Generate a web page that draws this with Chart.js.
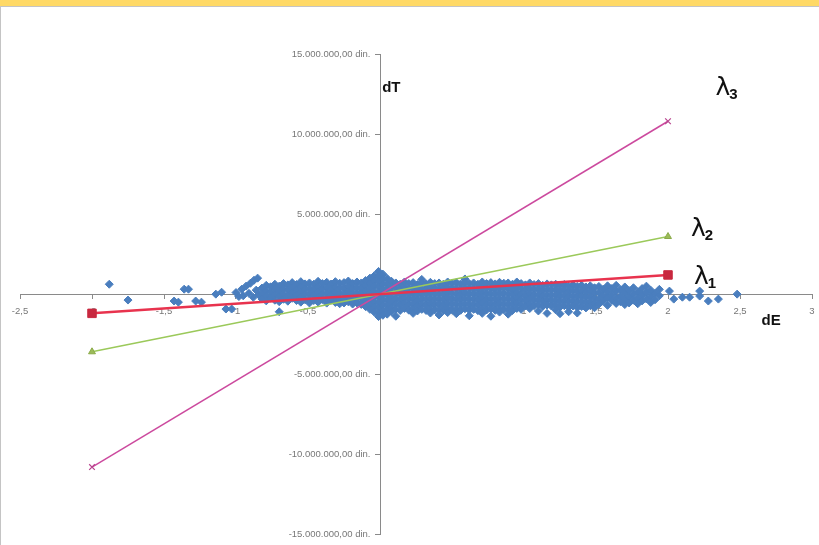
<!DOCTYPE html>
<html>
<head>
<meta charset="utf-8">
<script src="https://cdn.jsdelivr.net/npm/chart.js@4/dist/chart.umd.min.js"></script>
<style>
  html, body { margin: 0; padding: 0; background: #fff; }
  #wrap { position: relative; width: 819px; height: 545px; overflow: hidden; }
  #bar { position: absolute; left: 0; top: 0; width: 819px; height: 6px; background: #FFD966; border-bottom: 1px solid #c4c4c4; }
  #edge { position: absolute; left: 0; top: 7px; width: 1px; height: 538px; background: #c4c4c4; }
  canvas { position: absolute; left: 0; top: 0; }
</style>
</head>
<body>
<div id="wrap">
  <canvas id="c" width="819" height="545"></canvas>
  <div id="bar"></div>
  <div id="edge"></div>
</div>
<script>
// Axis ranges: dE (unitless), dT in millions of dinars
const dERange = [-2.5, 3];
const dEStep = 0.5;
const dTRange = [-15, 15];
const dTStep = 5;

// λ lines: dT (mln din.) at the two ends dE = -2 and dE = 2
const lambdaDE = [-2, 2];
const lambda1 = [-1.2, 1.2];
const lambda2 = [-3.6, 3.6];
const lambda3 = [-10.8, 10.8];

// Observations: isolated points [dE, dT]
const leftTail = [
  [-1.88, 0.62], [-1.75, -0.37], [-1.36, 0.31], [-1.33, 0.31], [-1.43, -0.43],
  [-1.40, -0.50], [-1.28, -0.43], [-1.24, -0.50], [-1.14, 0.00], [-1.10, 0.12],
  [-1.07, -0.93], [-1.03, -0.93], [-1.00, 0.10], [-0.98, -0.15], [-0.95, -0.10],
  [-0.91, 0.05], [-0.88, -0.20], [-0.86, 0.25], [-0.84, -0.05]
];
const streak = [
  [-0.96, 0.31], [-0.93, 0.50], [-0.90, 0.68], [-0.875, 0.87], [-0.85, 1.00]
];
const rightTail = [
  [2.01, 0.19], [2.04, -0.31], [2.10, -0.19], [2.15, -0.19], [2.22, 0.19],
  [2.22, -0.12], [2.28, -0.43], [2.35, -0.31], [2.48, 0.00]
];

// Observations grouped by dE column: [dE, [dT, dT, ...]]
const coreLeft = [
  [-0.82, [0.38, 0.05, -0.30]],
  [-0.79, [0.55, 0.20, -0.12, -0.42]],
  [-0.76, [0.46, 0.12, -0.25]],
  [-0.73, [0.62, 0.30, -0.05, -0.38]],
  [-0.70, [0.50, 0.18, -0.15, -0.47, -1.10]],
  [-0.67, [0.66, 0.33, 0.00, -0.32]],
  [-0.64, [0.58, 0.24, -0.10, -0.44]],
  [-0.61, [0.72, 0.40, 0.08, -0.26]],
  [-0.58, [0.60, 0.27, -0.06, -0.40]],
  [-0.55, [0.78, 0.45, 0.12, -0.20, -0.50]],
  [-0.52, [0.64, 0.31, -0.02, -0.35]],
  [-0.49, [0.70, 0.38, 0.05, -0.28, -0.55]],
  [-0.46, [0.62, 0.28, -0.05, -0.40]],
  [-0.43, [0.80, 0.47, 0.14, -0.19, -0.50]],
  [-0.40, [0.66, 0.33, 0.00, -0.33]],
  [-0.37, [0.74, 0.41, 0.08, -0.25, -0.56]],
  [-0.34, [0.63, 0.30, -0.03, -0.37]],
  [-0.31, [0.78, 0.45, 0.12, -0.21, -0.52]],
  [-0.28, [0.68, 0.35, 0.02, -0.31, -0.60]],
  [-0.25, [0.72, 0.39, 0.06, -0.27, -0.55]],
  [-0.22, [0.82, 0.49, 0.16, -0.17, -0.48]],
  [-0.19, [0.66, 0.33, 0.00, -0.33, -0.62]],
  [-0.16, [0.76, 0.43, 0.10, -0.23, -0.55]],
  [-0.13, [0.70, 0.37, 0.04, -0.29, -0.64]],
  [-0.10, [0.85, 0.52, 0.19, -0.14, -0.47, -0.78]]
];
const coreCenter = [
  [-0.07, [1.00, 0.68, 0.35, 0.02, -0.31, -0.64, -0.95]],
  [-0.04, [1.15, 0.82, 0.50, 0.17, -0.16, -0.49, -0.82, -1.12]],
  [-0.01, [1.42, 1.10, 0.78, 0.46, 0.13, -0.20, -0.53, -0.86, -1.18, -1.40]],
  [0.02, [1.25, 0.93, 0.60, 0.28, -0.05, -0.38, -0.71, -1.04, -1.32]],
  [0.05, [0.98, 0.66, 0.33, 0.00, -0.33, -0.66, -0.98, -1.25]],
  [0.08, [0.80, 0.47, 0.14, -0.19, -0.52, -0.85, -1.10]]
];
const coreRight = [
  [0.11, [0.70, 0.38, 0.05, -0.28, -0.61, -0.94, -1.38]],
  [0.14, [0.62, 0.29, -0.04, -0.37, -0.70, -1.02]],
  [0.17, [0.76, 0.43, 0.10, -0.23, -0.56, -0.89]],
  [0.20, [0.66, 0.33, 0.00, -0.33, -0.66, -1.00]],
  [0.23, [0.72, 0.40, 0.07, -0.26, -0.59, -0.92, -1.20]],
  [0.26, [0.60, 0.27, -0.06, -0.39, -0.72, -1.05]],
  [0.29, [0.92, 0.70, 0.37, 0.04, -0.29, -0.62, -0.95]],
  [0.32, [0.64, 0.31, -0.02, -0.35, -0.68, -1.02]],
  [0.35, [0.74, 0.41, 0.08, -0.25, -0.58, -0.91, -1.18]],
  [0.38, [0.66, 0.33, 0.00, -0.33, -0.66, -0.99]],
  [0.41, [0.70, 0.37, 0.04, -0.29, -0.62, -0.95, -1.30]],
  [0.44, [0.62, 0.29, -0.04, -0.37, -0.70, -1.04]],
  [0.47, [0.76, 0.43, 0.10, -0.23, -0.56, -0.89, -1.15]],
  [0.50, [0.68, 0.35, 0.02, -0.31, -0.64, -0.97]],
  [0.53, [0.72, 0.39, 0.06, -0.27, -0.60, -0.93, -1.22]],
  [0.56, [0.64, 0.31, -0.02, -0.35, -0.68, -1.01]],
  [0.59, [0.95, 0.74, 0.41, 0.08, -0.25, -0.58, -0.91]],
  [0.62, [0.66, 0.33, 0.00, -0.33, -0.66, -0.99, -1.35]],
  [0.65, [0.70, 0.37, 0.04, -0.29, -0.62, -0.95]],
  [0.68, [0.62, 0.29, -0.04, -0.37, -0.70, -1.03]],
  [0.71, [0.76, 0.43, 0.10, -0.23, -0.56, -0.89, -1.20]],
  [0.74, [0.66, 0.33, 0.00, -0.33, -0.66, -0.99]],
  [0.77, [0.72, 0.39, 0.06, -0.27, -0.60, -0.93, -1.38]],
  [0.80, [0.64, 0.31, -0.02, -0.35, -0.68, -1.01]],
  [0.83, [0.74, 0.41, 0.08, -0.25, -0.58, -0.91, -1.12]],
  [0.86, [0.68, 0.35, 0.02, -0.31, -0.64, -0.97]],
  [0.89, [0.70, 0.37, 0.04, -0.29, -0.62, -0.95, -1.25]],
  [0.92, [0.62, 0.29, -0.04, -0.37, -0.70, -1.02]],
  [0.95, [0.76, 0.43, 0.10, -0.23, -0.56, -0.89]],
  [0.98, [0.66, 0.33, 0.00, -0.33, -0.66, -0.95]],
  [1.01, [0.58, 0.25, -0.08, -0.41, -0.74]],
  [1.04, [0.70, 0.37, 0.04, -0.29, -0.62, -0.90]],
  [1.07, [0.60, 0.27, -0.06, -0.39, -0.72]],
  [1.10, [0.66, 0.33, 0.00, -0.33, -0.66, -1.05]],
  [1.13, [0.55, 0.22, -0.11, -0.44, -0.77]],
  [1.16, [0.64, 0.31, -0.02, -0.35, -0.68, -1.20]],
  [1.19, [0.58, 0.25, -0.08, -0.41, -0.74]],
  [1.22, [0.62, 0.29, -0.04, -0.37, -0.70, -0.98]],
  [1.25, [0.52, 0.19, -0.14, -0.47, -0.80, -1.22]],
  [1.28, [0.60, 0.27, -0.06, -0.39, -0.72]],
  [1.31, [0.50, 0.17, -0.16, -0.49, -0.82, -1.10]],
  [1.34, [0.58, 0.25, -0.08, -0.41, -0.74]],
  [1.37, [0.48, 0.15, -0.18, -0.51, -0.84, -1.18]],
  [1.40, [0.55, 0.22, -0.11, -0.44, -0.77]],
  [1.43, [0.45, 0.12, -0.21, -0.54, -0.86]],
  [1.46, [0.52, 0.19, -0.14, -0.47, -0.72]],
  [1.49, [0.40, 0.07, -0.26, -0.59, -0.85]]
];
const coreFar = [
  [1.52, [0.48, 0.10, -0.30, -0.62]],
  [1.55, [0.30, -0.08, -0.45]],
  [1.58, [0.52, 0.15, -0.22, -0.70]],
  [1.61, [0.35, -0.05, -0.40]],
  [1.64, [0.55, 0.18, -0.25, -0.58]],
  [1.67, [0.28, -0.12, -0.48]],
  [1.70, [0.45, 0.05, -0.32, -0.65]],
  [1.73, [0.22, -0.18, -0.55]],
  [1.76, [0.40, 0.00, -0.38]],
  [1.79, [0.15, -0.25, -0.60]],
  [1.82, [0.35, -0.05, -0.42]],
  [1.85, [0.50, 0.10, -0.30]],
  [1.88, [0.25, -0.15, -0.52]],
  [1.91, [0.05, -0.35]],
  [1.94, [0.30, -0.10]]
];

// Text placed in data coordinates
const axisTitles = [
  { text: 'dT', dE: 0.015, dT: 12.6 },
  { text: 'dE', dE: 2.65, dT: -1.95 }
];
const lambdaTags = [
  { sub: '1', dE: 2.18, dT: 0.62 },
  { sub: '2', dE: 2.16, dT: 3.62 },
  { sub: '3', dE: 2.33, dT: 12.45 }
];

// Flatten the observations into {x, y} points
const cloud = [];
[leftTail, streak, rightTail].forEach(list => list.forEach(([x, y]) => cloud.push({ x, y })));
[coreLeft, coreCenter, coreRight, coreFar].forEach(cols =>
  cols.forEach(([x, ys]) => ys.forEach(y => cloud.push({ x, y }))));

const linePoints = vals => lambdaDE.map((x, i) => ({ x, y: vals[i] }));

// "15.000.000,00 din." style labels (values are in millions); the trailing
// em space keeps the text clear of the tick marks on the centred axis
function dinLabel(v) {
  const n = Math.round(Math.abs(v) * 1000000);
  const s = String(n).replace(/\B(?=(\d{3})+(?!\d))/g, '.');
  return (v < 0 ? '-' : '') + s + ',00 din.\u2003';
}
function dELabel(v) {
  return String(Math.round(v * 10) / 10).replace('.', ',');
}

const textPlugin = {
  id: 'axisText',
  afterDatasetsDraw(chart) {
    const { ctx, scales: { x, y } } = chart;
    ctx.save();
    ctx.fillStyle = '#111';
    ctx.textBaseline = 'alphabetic';
    ctx.textAlign = 'left';
    ctx.font = 'bold 15px "Liberation Sans", Arial, sans-serif';
    axisTitles.forEach(t => ctx.fillText(t.text, x.getPixelForValue(t.dE), y.getPixelForValue(t.dT)));
    lambdaTags.forEach(t => {
      const px = x.getPixelForValue(t.dE);
      const py = y.getPixelForValue(t.dT);
      ctx.font = '25px "DejaVu Sans", sans-serif';
      ctx.fillText('λ', px, py);
      const w = ctx.measureText('λ').width;
      ctx.font = 'bold 15px "Liberation Sans", Arial, sans-serif';
      ctx.fillText(t.sub, px + w - 1, py + 4);
    });
    ctx.restore();
  }
};

const axisGrey = '#8a8a8a';
const tickFont = { size: 9.5, family: '"Liberation Sans", Arial, sans-serif' };

new Chart(document.getElementById('c'), {
  type: 'scatter',
  data: {
    datasets: [
      {
        label: 'λ1', data: linePoints(lambda1), showLine: true, order: 1,
        borderColor: '#E8334E', borderWidth: 2.5,
        pointStyle: 'rect', pointRadius: 6, pointBackgroundColor: '#C8283F', pointBorderColor: '#C8283F', pointBorderWidth: 1
      },
      {
        label: 'λ2', data: linePoints(lambda2), showLine: true, order: 2,
        borderColor: '#9BC95A', borderWidth: 1.5,
        pointStyle: 'triangle', pointRadius: 4, pointBackgroundColor: '#9BBB59', pointBorderColor: '#8AAA48', pointBorderWidth: 1
      },
      {
        label: 'λ3', data: linePoints(lambda3), showLine: true, order: 3,
        borderColor: '#CC4A9E', borderWidth: 1.5,
        pointStyle: 'crossRot', pointRadius: 4, pointBorderColor: '#B8448E', pointBorderWidth: 1.2
      },
      {
        label: 'dT', data: cloud, order: 4,
        pointStyle: 'rectRot', pointRadius: 4,
        backgroundColor: '#4A7EBE', borderColor: '#4A7EBE', borderWidth: 1
      }
    ]
  },
  options: {
    responsive: false,
    animation: false,
    layout: { padding: { left: 20, right: 6, top: 54, bottom: 9 } },
    plugins: { legend: { display: false }, tooltip: { enabled: false } },
    scales: {
      x: {
        type: 'linear', position: { y: 0 },
        min: dERange[0], max: dERange[1],
        ticks: { stepSize: dEStep, callback: dELabel, font: tickFont, color: '#777', maxRotation: 0, autoSkip: false, padding: 8 },
        grid: { drawOnChartArea: false, tickLength: 4, color: axisGrey },
        border: { color: axisGrey, width: 1 },
        // the axis sits inside the plot, so it reserves no room of its own
        afterFit(s) { s.height = 0; s.paddingLeft = 0; s.paddingRight = 0; }
      },
      y: {
        type: 'linear', position: { x: 0 },
        min: dTRange[0], max: dTRange[1],
        ticks: { stepSize: dTStep, callback: dinLabel, font: tickFont, color: '#777', autoSkip: false, padding: 5 },
        grid: { drawOnChartArea: false, tickLength: 5, color: axisGrey },
        border: { color: axisGrey, width: 1 },
        afterFit(s) { s.width = 0; }
      }
    }
  },
  plugins: [textPlugin]
});
</script>
</body>
</html>
